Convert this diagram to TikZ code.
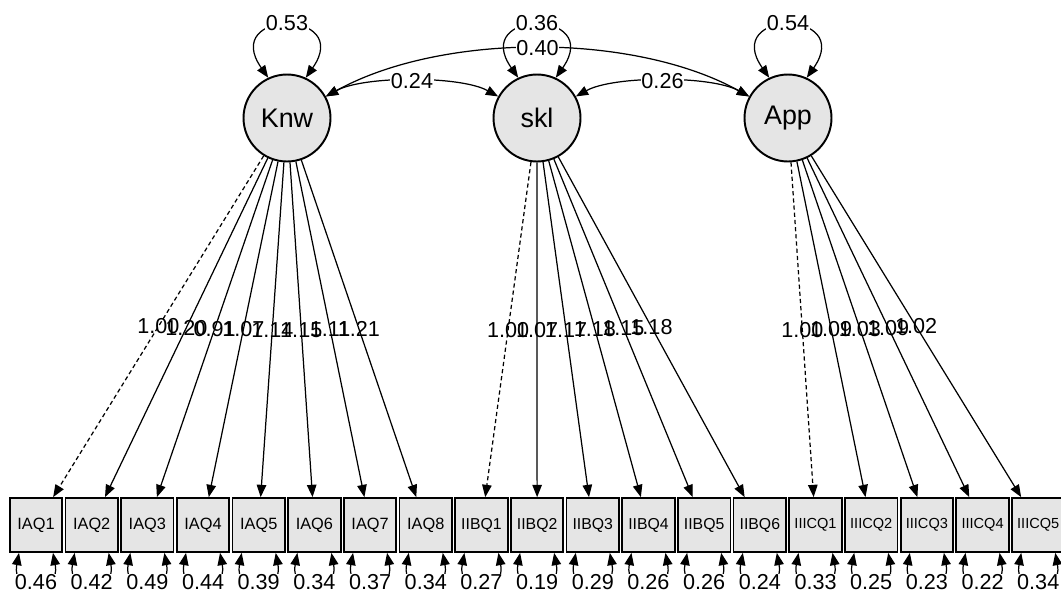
\documentclass[tikz,border=0pt]{standalone}
\usepackage{fontspec}
\setmainfont{Liberation Sans}
\usetikzlibrary{arrows.meta,calc}
\begin{document}
\begin{tikzpicture}[x=0.02cm,y=0.02cm,
  lat/.style={circle,draw,line width=1.1pt,fill=black!10,minimum size=1.74cm,inner sep=0pt,font=\fontsize{15.3}{18}\selectfont},
  obs/.style={rectangle,draw,line width=1pt,fill=black!10,minimum width=1.05cm,minimum height=1.08cm,inner sep=0pt},
  fa/.style={font=\fontsize{9.3}{11}\selectfont},
  fb/.style={font=\fontsize{9}{11}\selectfont},
  fc/.style={font=\fontsize{8.3}{10}\selectfont},
  load/.style={line width=0.7pt,-{Triangle[length=7pt,width=5.4pt]}},
  fixed/.style={load,dash pattern=on 2.4pt off 1.7pt},
  cov/.style={line width=0.7pt,{Triangle[length=7pt,width=5.4pt]}-{Triangle[length=7pt,width=5.4pt]}},
  lbl/.style={font=\fontsize{12.3}{14}\selectfont,inner sep=0.5pt},
  wlbl/.style={lbl,fill=white}
]
\useasboundingbox (0,0) rectangle (1061,-592);

% latent variables
\node[lat] (Knw) at (287,-118) {Knw};
\node[lat] (skl) at (537,-118) {skl};
\node[lat] (App) at (788,-118) {App};

% observed variables
\foreach \n [count=\i from 0] in {IAQ1,IAQ2,IAQ3,IAQ4,IAQ5,IAQ6,IAQ7,IAQ8}
  \node[obs,fa] (\n) at ({36+55.68*\i},-525) {\n};
\foreach \n [count=\i from 8] in {IIBQ1,IIBQ2,IIBQ3,IIBQ4,IIBQ5,IIBQ6}
  \node[obs,fb] (\n) at ({36+55.68*\i},-525) {\n};
\foreach \n [count=\i from 14] in {IIICQ1,IIICQ2,IIICQ3,IIICQ4,IIICQ5}
  \node[obs,fc] (\n) at ({36+55.68*\i},-525) {\n};

% loadings
\draw[fixed] (Knw) -- node[lbl]{1.00} (IAQ1);
\foreach \n/\v in {IAQ2/1.20,IAQ3/0.91,IAQ4/1.07,IAQ5/1.14,IAQ6/1.15,IAQ7/1.11,IAQ8/1.21}
  \draw[load] (Knw) -- node[lbl]{\v} (\n);
\draw[fixed] (skl) -- node[lbl]{1.00} (IIBQ1);
\foreach \n/\v in {IIBQ2/1.07,IIBQ3/1.17,IIBQ4/1.18,IIBQ5/1.15,IIBQ6/1.18}
  \draw[load] (skl) -- node[lbl]{\v} (\n);
\draw[fixed] (App) -- node[lbl]{1.00} (IIICQ1);
\foreach \n/\v in {IIICQ2/1.09,IIICQ3/1.03,IIICQ4/1.09,IIICQ5/1.02}
  \draw[load] (App) -- node[lbl]{\v} (\n);

% latent variances
\draw[cov] (Knw.115) .. controls +(125:84) and +(55:84) .. node[wlbl,pos=0.5,yshift=1.5pt]{0.53} (Knw.65);
\draw[cov] (skl.115) .. controls +(125:84) and +(55:84) .. node[wlbl,pos=0.5,yshift=1.5pt]{0.36} (skl.65);
\draw[cov] (App.115) .. controls +(125:84) and +(55:84) .. node[wlbl,pos=0.5,yshift=1.5pt]{0.54} (App.65);

% covariances
\draw[cov] (Knw) to[out=29,in=151,looseness=0.8] node[wlbl]{0.40} (App);
\draw[cov] (Knw) to[out=29,in=151,looseness=0.64] node[wlbl]{0.24} (skl);
\draw[cov] (skl) to[out=29,in=151,looseness=0.64] node[wlbl]{0.26} (App);

% residual variances
\foreach \n/\v in {IAQ1/0.46,IAQ2/0.42,IAQ3/0.49,IAQ4/0.44,IAQ5/0.39,IAQ6/0.34,IAQ7/0.37,IAQ8/0.34,
                   IIBQ1/0.27,IIBQ2/0.19,IIBQ3/0.29,IIBQ4/0.26,IIBQ5/0.26,IIBQ6/0.24,
                   IIICQ1/0.33,IIICQ2/0.25,IIICQ3/0.23,IIICQ4/0.22,IIICQ5/0.34}
  \draw[cov] ($(\n.south)+(-17,0)$) .. controls +(-8,-43) and +(8,-43) .. node[wlbl,pos=0.5,yshift=1.5pt]{\v} ($(\n.south)+(17,0)$);
\end{tikzpicture}
\end{document}
